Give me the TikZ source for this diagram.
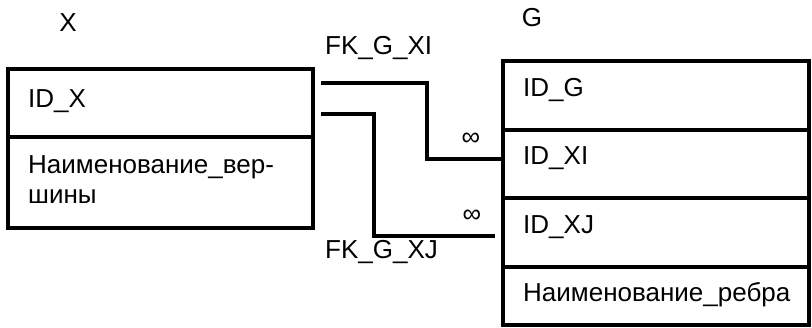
\documentclass[tikz,border=0pt]{standalone}
\usepackage{fontspec}
\setmainfont{Liberation Sans}
\begin{document}
\begin{tikzpicture}[x=1pt,y=-1pt,
  field/.style={draw, line width=3.2pt, rectangle, inner sep=0pt, outer sep=0pt,
    minimum width=#1, anchor=north west},
  txt/.style={font=\fontsize{26}{30}\selectfont, anchor=west, inner sep=0pt, align=left},
  conn/.style={line width=3.2pt},
  lbl/.style={font=\fontsize{26}{30}\selectfont, inner sep=0pt}]
\useasboundingbox (0,0) rectangle (812,327);
% left table X
\node[field=305pt, minimum height=68pt] (xid) at (8,69) {};
\node[field=305pt, minimum height=91pt] (xname) at (8,137) {};
\node[txt] (txid) at (28,101) {ID\_X};
\node[txt] (txname) at (28,180) {Наименование\_вер-\\шины};
\node[lbl] (xlabel) at (68,23) {X};
% right table G
\node[field=306pt, minimum height=69pt] (gid) at (503,61) {};
\node[field=306pt, minimum height=68pt] (gxi) at (503,130) {};
\node[field=306pt, minimum height=69pt] (gxj) at (503,198) {};
\node[field=306pt, minimum height=58pt] (gname) at (503,267) {};
\node[txt] (tgid) at (523,90) {ID\_G};
\node[txt] (tgxi) at (523,158) {ID\_XI};
\node[txt] (tgxj) at (523,227) {ID\_XJ};
\node[txt] (tgname) at (523,295) {Наименование\_ребра};
\node[lbl] (glabel) at (532,18) {G};
% connectors
\coordinate (s1) at (321,83);
\coordinate (b1) at (427,83);
\coordinate (c1) at (427,159);
\coordinate (e1) at (503,159);
\coordinate (s2) at (321,114);
\coordinate (b2) at (374,114);
\coordinate (c2) at (374,236);
\coordinate (e2) at (495,236);
\draw[conn] (s1) -- (b1) -- (c1) -- (e1);
\draw[conn] (s2) -- (b2) -- (c2) -- (e2);
\node[lbl, anchor=west] (fk1) at (325,48) {FK\_G\_XI};
\node[lbl, anchor=west] (fk2) at (325,252) {FK\_G\_XJ};
\node[lbl] (inf1) at (471,139) {∞};
\node[lbl] (inf2) at (472,216) {∞};
\end{tikzpicture}
\end{document}
